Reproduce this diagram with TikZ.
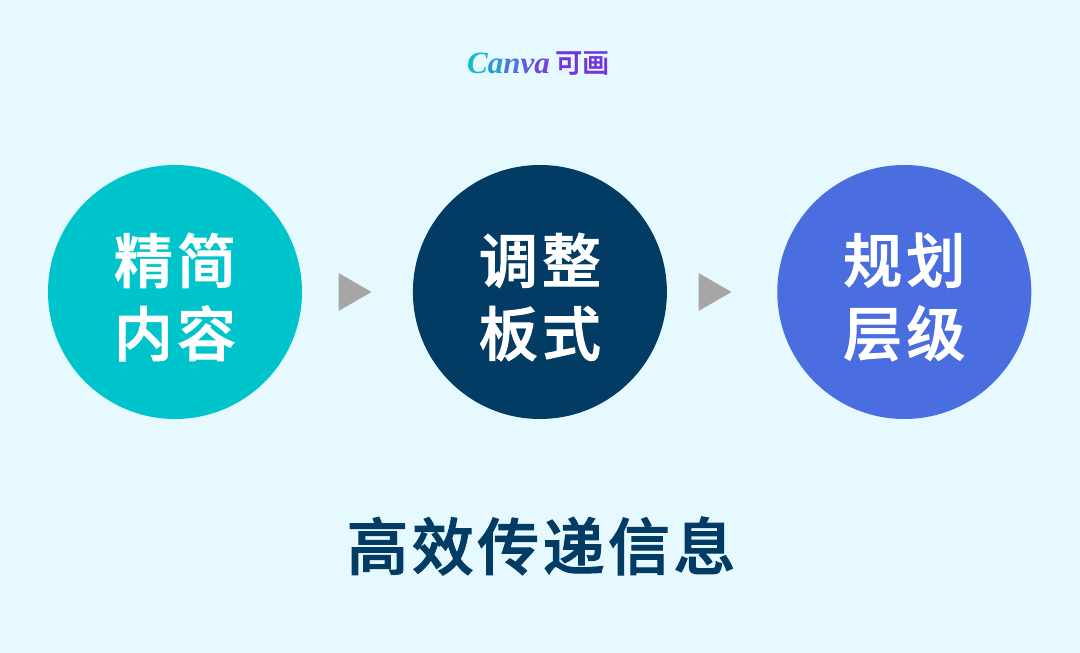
\documentclass[tikz,border=0pt]{standalone}
\usepackage{xcolor}
\usepackage{fontspec}
\usetikzlibrary{positioning,shapes.geometric}
\newfontfamily\cjkfont{Noto Sans CJK SC Medium}[LetterSpace=7,FakeBold=1.6]
\newfontfamily\cjktitle{Noto Sans CJK SC Medium}[LetterSpace=5.5,FakeBold=1.6]
\newfontfamily\cjklogo{Noto Sans CJK SC Medium}[FakeBold=1.2]
\newfontfamily\logofont{Liberation Serif}
\definecolor{bgblue}{HTML}{E6F9FF}
\definecolor{cyancircle}{HTML}{00C4CC}
\definecolor{navycircle}{HTML}{023C64}
\definecolor{bluecircle}{HTML}{4A6DE0}
\definecolor{arrowgray}{HTML}{A6A6A6}
\definecolor{logoa}{HTML}{12BCCB}
\definecolor{logob}{HTML}{2A9AD6}
\definecolor{logoc}{HTML}{4A78DE}
\definecolor{logod}{HTML}{5F5AE2}
\definecolor{logoe}{HTML}{6E45E2}
\definecolor{logof}{HTML}{7233E0}
\begin{document}
\begin{tikzpicture}[x=1pt, y=1pt,
  stage/.style={circle, minimum size=254pt, inner sep=0pt},
  stagetext/.style={text=white, inner sep=0pt, align=center, font=\cjkfont\fontsize{59}{73}\selectfont},
  pointer/.style={isosceles triangle, isosceles triangle apex angle=90, isosceles triangle stretches, fill=arrowgray, inner sep=0pt, minimum width=38pt, minimum height=33pt}
]
\fill[bgblue] (0,0) rectangle (1080,653);
\useasboundingbox (0,0) rectangle (1080,653);
\node[stage, fill=cyancircle] (trim) at (175,361) {};
\node[stage, fill=navycircle, right=110.5pt of trim] (layout) {};
\node[stage, fill=bluecircle, right=110pt of layout] (plan) {};
\node[stagetext] (trimtext) at ([yshift=-5pt]trim.center) {精简\\内容};
\node[stagetext] (layouttext) at ([yshift=-5pt]layout.center) {调整\\板式};
\node[stagetext] (plantext) at ([yshift=-5pt]plan.center) {规划\\层级};
\node[pointer] (first) at (349.5,361) {};
\node[pointer] (second) at (709.5,361) {};
\node[font=\cjktitle\fontsize{62}{72}\selectfont, text=navycircle, inner sep=0pt] (title) at (541,107) {高效传递信息};
\node[font=\logofont\itshape\bfseries\fontsize{31}{36}\selectfont, inner sep=0pt, anchor=east] (logo) at (550,590) {\textcolor{logoa}{C}\textcolor{logob}{a}\textcolor{logoc}{n}\textcolor{logod}{v}\textcolor{logoe}{a}};
\node[font=\cjklogo\fontsize{27}{30}\selectfont, text=logof, inner sep=0pt, right=5pt of logo] (brand) {可画};
\end{tikzpicture}
\end{document}
